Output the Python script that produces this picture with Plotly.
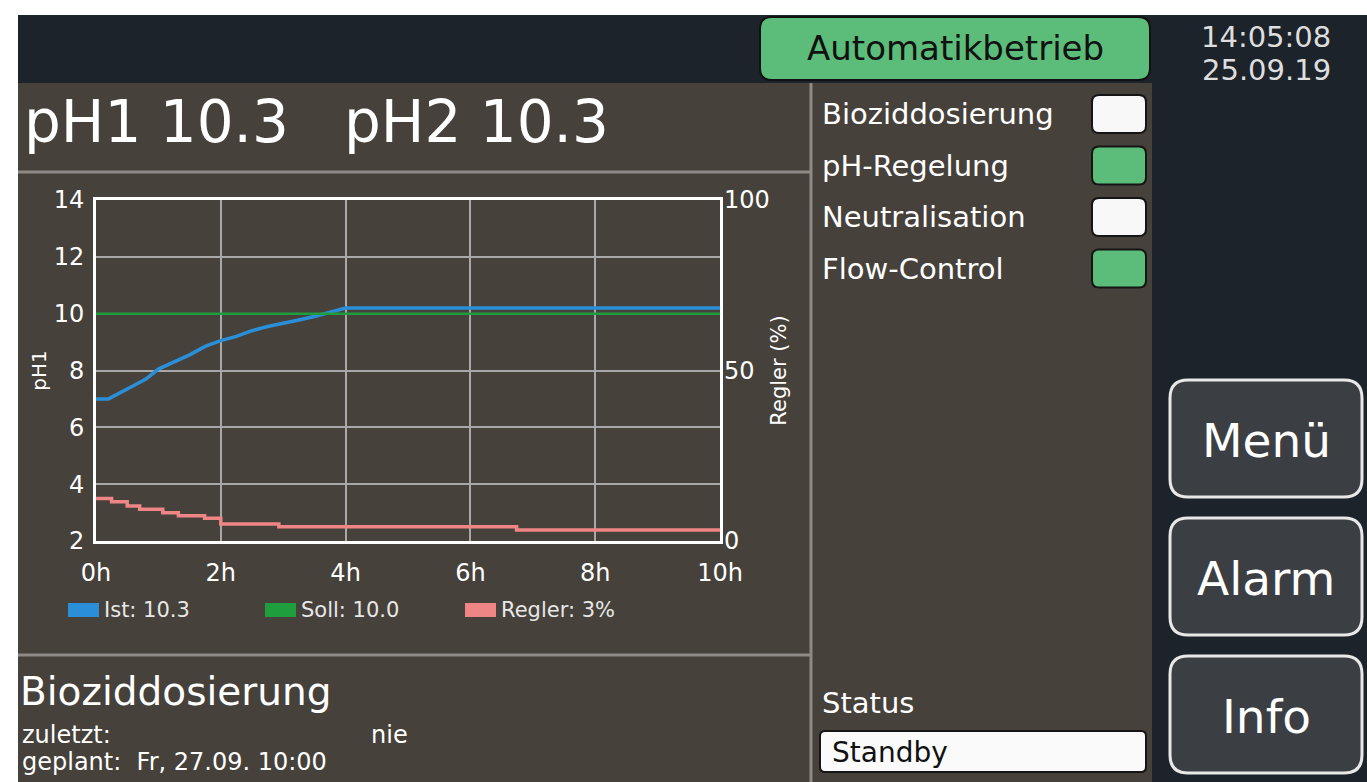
import plotly.graph_objects as go

W, H = 1367, 782

# ---------------- data ----------------
ist_t = [0, 0.2, 0.5, 0.8, 1.0, 1.25, 1.5, 1.75, 2.0, 2.25, 2.5, 2.75, 3.0, 3.25, 3.5, 3.75, 3.9, 4.0, 10]
ist_ph = [7.0, 7.0, 7.35, 7.7, 8.05, 8.3, 8.55, 8.85, 9.05, 9.2, 9.4, 9.55, 9.65, 9.78, 9.9, 10.05, 10.15, 10.2, 10.2]
soll_t = [0, 10]
soll_ph = [10.0, 10.0]
regler_t = [0, 0.25, 0.5, 0.7, 1.07, 1.32, 1.74, 2.0, 2.93, 6.74, 10]
regler_pct = [12.5, 11.5, 10.3, 9.3, 8.3, 7.4, 6.7, 5.0, 4.2, 3.2, 3.2]

x_tickvals = [0, 2, 4, 6, 8, 10]
x_ticktext = ["0h", "2h", "4h", "6h", "8h", "10h"]
y_tickvals = [2, 4, 6, 8, 10, 12, 14]
y2_tickvals = [0, 50, 100]

legend_labels = ["Ist: 10.3", "Soll: 10.0", "Regler: 3%"]
status_items = ["Bioziddosierung", "pH-Regelung", "Neutralisation", "Flow-Control"]
status_on = [False, True, False, True]
button_labels = ["Menü", "Alarm", "Info"]

# ---------------- styling ----------------
NAVY = "#1d232b"
PANEL = "#46413b"
SEP = "#8e8a86"
GREEN = "#5cbc79"
BLUE = "#2a8fd8"
DGREEN = "#1f9e3e"
PINK = "#f08585"
FONT = "DejaVu Sans, Liberation Sans, sans-serif"


def X(px):
    return px / W


def Y(py):
    return 1 - py / H


def rrect(x0, y0, x1, y1, r):
    p = [
        f"M {X(x0 + r)} {Y(y0)}",
        f"L {X(x1 - r)} {Y(y0)}",
        f"Q {X(x1)} {Y(y0)} {X(x1)} {Y(y0 + r)}",
        f"L {X(x1)} {Y(y1 - r)}",
        f"Q {X(x1)} {Y(y1)} {X(x1 - r)} {Y(y1)}",
        f"L {X(x0 + r)} {Y(y1)}",
        f"Q {X(x0)} {Y(y1)} {X(x0)} {Y(y1 - r)}",
        f"L {X(x0)} {Y(y0 + r)}",
        f"Q {X(x0)} {Y(y0)} {X(x0 + r)} {Y(y0)}",
        "Z",
    ]
    return " ".join(p)


shapes = []
annotations = []


def rect(x0, y0, x1, y1, fill, line=None, lw=0, layer="below"):
    shapes.append(dict(type="rect", xref="paper", yref="paper",
                       x0=X(x0), x1=X(x1), y0=Y(y1), y1=Y(y0),
                       fillcolor=fill, line=dict(width=lw, color=line or fill), layer=layer))


def rpath(x0, y0, x1, y1, r, fill, line, lw, layer="below"):
    shapes.append(dict(type="path", xref="paper", yref="paper", path=rrect(x0, y0, x1, y1, r),
                       fillcolor=fill, line=dict(width=lw, color=line), layer=layer))


def hline(x0, x1, y, color, w):
    shapes.append(dict(type="line", xref="paper", yref="paper", x0=X(x0), x1=X(x1), y0=Y(y), y1=Y(y),
                       line=dict(color=color, width=w), layer="below"))


def vline(x, y0, y1, color, w):
    shapes.append(dict(type="line", xref="paper", yref="paper", x0=X(x), x1=X(x), y0=Y(y0), y1=Y(y1),
                       line=dict(color=color, width=w), layer="below"))


def text(x, y, s, size, color="white", anchor="left", angle=0):
    annotations.append(dict(xref="paper", yref="paper", x=X(x), y=Y(y), text=s, showarrow=False,
                            xanchor=anchor, yanchor="middle", textangle=angle,
                            font=dict(size=size, color=color, family=FONT)))


# background blocks
rect(18, 15, W, H, NAVY)
rect(18, 83, 1152, H, PANEL)
hline(18, 810, 172, SEP, 3)
hline(18, 810, 655, SEP, 3)
vline(811, 83, H, SEP, 3)

# top bar
rpath(760, 17, 1150, 80, 12, GREEN, "#111111", 2)
text(955, 48, "Automatikbetrieb", 34, "#111111", "center")
text(1266, 37, "14:05:08", 29, "#dedede", "center")
text(1266, 70, "25.09.19", 29, "#dedede", "center")

# big pH readout
text(22, 122, "pH1 10.3", 58)
text(342, 122, "pH2 10.3", 58)

# status list on the right panel
for i, (lab, on) in enumerate(zip(status_items, status_on)):
    yc = 114 + i * 51.5
    text(820, yc, lab, 29)
    rpath(1092, yc - 19, 1146, yc + 19, 7, GREEN if on else "#f8f8f8", "#151515", 2)

text(820, 703, "Status", 29)
rpath(820, 731, 1146, 772, 5, "#fafafa", "#151515", 2)
text(830, 752, "Standby", 28, "#111111")

# buttons
for i, lab in enumerate(button_labels):
    y0 = 380 + i * 138
    rpath(1170, y0, 1362, y0 + 117, 18, "#3b3e42", "#e8e8e8", 3)
    text(1266, y0 + 60, lab, 47, "white", "center")

# bottom-left info
text(18, 691, "Bioziddosierung", 39)
text(20, 735, "zuletzt:", 24)
text(410, 735, "nie", 24, "white", "right")
text(20, 762, "geplant:&nbsp; Fr, 27.09. 10:00", 24)

# manual legend
leg_x = [68, 265, 465]
leg_c = [BLUE, DGREEN, PINK]
for lx, lc, ll in zip(leg_x, leg_c, legend_labels):
    rect(lx, 603, lx + 31, 617, lc)
    text(lx + 34, 610, ll, 21, "#e8e8e8")

# ---------------- figure ----------------
fig = go.Figure()
fig.add_trace(go.Scatter(x=ist_t, y=ist_ph, mode="lines", name="Ist",
                         line=dict(color=BLUE, width=3.5), showlegend=False))
fig.add_trace(go.Scatter(x=soll_t, y=soll_ph, mode="lines", name="Soll",
                         line=dict(color=DGREEN, width=2.5), showlegend=False))
fig.add_trace(go.Scatter(x=regler_t, y=regler_pct, mode="lines", name="Regler", yaxis="y2",
                         line=dict(color=PINK, width=3.5, shape="hv"), showlegend=False))

axis_font = dict(size=24, color="white", family=FONT)
fig.update_layout(
    width=W, height=H, autosize=False,
    margin=dict(l=0, r=0, t=0, b=0, autoexpand=False),
    paper_bgcolor="white",
    plot_bgcolor=PANEL,
    xaxis=dict(domain=[X(96), X(720)], range=[0, 10], tickvals=x_tickvals, ticktext=x_ticktext,
               tickfont=axis_font, showgrid=True, gridcolor="#a8a8a8", gridwidth=2,
               showline=True, linecolor="white", linewidth=3, mirror=True, zeroline=False,
               ticks="", ticklabelstandoff=8, automargin=False, fixedrange=True),
    yaxis=dict(domain=[Y(541), Y(200)], range=[2, 14], tickvals=y_tickvals,
               tickfont=axis_font, showgrid=True, gridcolor="#a8a8a8", gridwidth=2,
               showline=True, linecolor="white", linewidth=3, mirror=True, zeroline=False,
               ticks="", ticklabelstandoff=4, automargin=False, fixedrange=True,
               title=dict(text="pH1", font=dict(size=20, color="white", family=FONT), standoff=2)),
    yaxis2=dict(overlaying="y", side="right", range=[0, 100], tickvals=y2_tickvals,
                tickfont=axis_font, showgrid=False, zeroline=False, showline=False,
                ticks="", ticklabelstandoff=3, anchor="x", automargin=False, fixedrange=True,
                title=dict(text="Regler (%)", font=dict(size=21, color="white", family=FONT), standoff=2)),
    shapes=shapes,
    annotations=annotations,
)

fig.write_html("out.html", config={"displayModeBar": False},
               post_script="document.body.style.margin='0';document.body.style.overflow='hidden';")
